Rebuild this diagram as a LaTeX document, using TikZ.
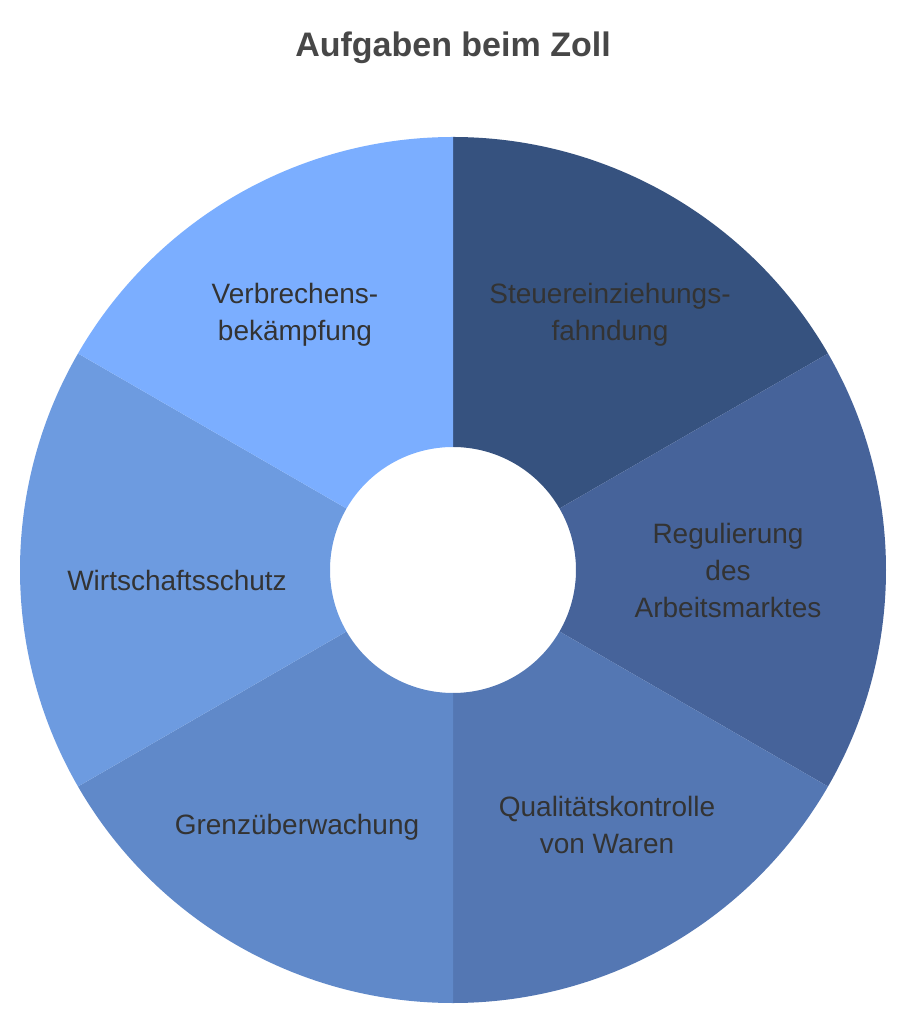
\documentclass[tikz,border=0pt]{standalone}
\usepackage{fontspec}
\setmainfont{Liberation Sans}
\usetikzlibrary{calc}
\definecolor{segA}{HTML}{36527F}
\definecolor{segB}{HTML}{46639A}
\definecolor{segC}{HTML}{5477B3}
\definecolor{segD}{HTML}{6089C9}
\definecolor{segE}{HTML}{6D9BE0}
\definecolor{segF}{HTML}{7BAEFF}
\definecolor{labeltext}{HTML}{333333}
\tikzset{
    seglabel/.style={
        text=labeltext,
        font=\fontsize{28}{37}\selectfont,
        align=center
        },
    title/.style={
        text=labeltext!90!white,
        font=\fontsize{34}{40}\selectfont\bfseries
        }
}
\begin{document}
\begin{tikzpicture}[x=1pt,y=1pt]
\useasboundingbox (-453,-454) rectangle (455,570);
% ring segments
\foreach \start/\col in {30/segA,-30/segB,-90/segC,-150/segD,150/segE,90/segF}{
    \fill[\col] (\start:123) -- (\start:433) arc[start angle=\start, delta angle=60, radius=433]
        -- ($(\start+60:123)$) arc[start angle=\start+60, delta angle=-60, radius=123] -- cycle;
}
\node[title] (head) at (0,522) {Aufgaben beim Zoll};
\node[seglabel] (crime) at (-158,255) {Verbrechens-\\bekämpfung};
\node[seglabel] (tax) at (157,255) {Steuereinziehungs-\\fahndung};
\node[seglabel] (labour) at (275,0) {Regulierung\\des\\Arbeitsmarktes};
\node[seglabel] (quality) at (154,-255) {Qualitätskontrolle\\von Waren};
\node[seglabel] (border) at (-156,-257) {Grenzüberwachung};
\node[seglabel] (economy) at (-276,-10) {Wirtschaftsschutz};
\end{tikzpicture}
\end{document}
